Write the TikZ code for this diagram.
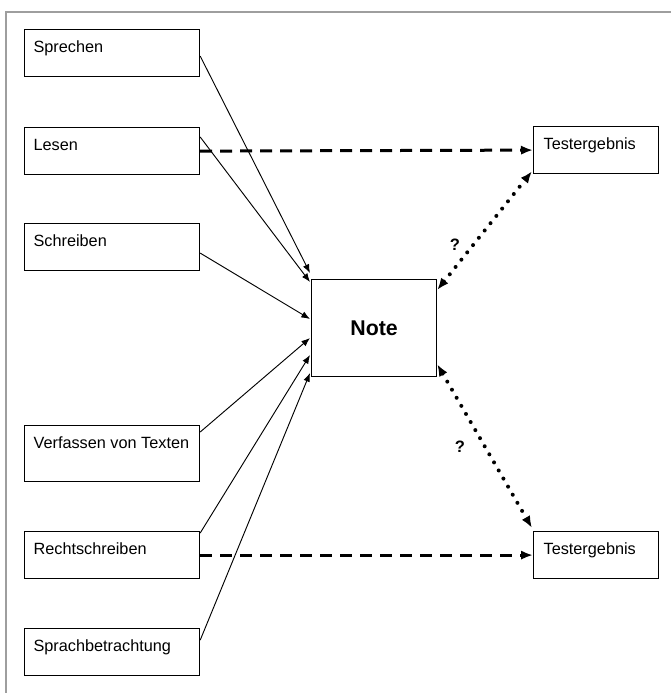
\documentclass[tikz,border=0pt]{standalone}
\usepackage{fontspec}
\setmainfont{Liberation Sans}
\usetikzlibrary{positioning, calc, arrows.meta}
\definecolor{framegrey}{rgb}{0.62, 0.62, 0.62}

\begin{document}
\begin{tikzpicture}[x=0.75pt, y=-0.75pt,
        skill/.style={draw, line width=0.9pt, anchor=north west, inner xsep=6.75pt, inner ysep=0pt,
            text width=117.75pt, align=flush left, text height=17.25pt, text depth=#1,
            font=\fontsize{12.2}{14}\selectfont},
        skill/.default=18pt,
        result/.style={draw, line width=0.9pt, anchor=north west, inner xsep=7.5pt, inner ysep=0pt,
            text width=78.75pt, align=flush left, text height=17.25pt, text depth=18pt,
            font=\fontsize{12.2}{14}\selectfont},
        influence/.style={-{Latex[length=6.5pt, width=5pt]}, line width=0.7pt},
        compare/.style={-{Latex[length=9pt, width=7pt]}, line width=2.25pt, dash pattern=on 9pt off 6pt},
        relation/.style={{Latex[length=9pt, width=7pt]}-{Latex[length=9pt, width=7pt]}, line width=3pt,
            line cap=round, dash pattern=on 0pt off 7pt}]

    \useasboundingbox (0,0) rectangle (671,693);
    \draw [framegrey, line width=0.8pt] (671,12) -- (6,12) -- (6,693);

    % skills on the left
    \node (sprechen)  [skill] at (24,29)  {Sprechen};
    \node (lesen)     [skill] at (24,127) {Lesen};
    \node (schreiben) [skill] at (24,223) {Schreiben};
    \node (verfassen) [skill=24.75pt] at (24,425) {\mbox{Verfassen von Texten}};
    \node (recht)     [skill] at (24,531) {Rechtschreiben};
    \node (sprach)    [skill] at (24,628) {Sprachbetrachtung};

    % grade and test results
    \node (note) [draw, line width=0.9pt, anchor=north west, minimum width=93.75pt, minimum height=72.75pt,
        font=\fontsize{16}{18}\bfseries\selectfont] at (311,279) {Note};
    \node (testA) [result] at (533,126) {Testergebnis};
    \node (testB) [result] at (533,531) {Testergebnis};

    \begin{scope}[influence]
        \draw ($(sprechen.east)+(0,3)$)          -- ($(note.north west)+(-1,-6)$);
        \draw ($(lesen.north east)+(0,10)$)      -- ($(note.north west)+(-1,3)$);
        \draw ($(schreiben.east)+(0,6)$)         -- ($(note.north west)+(-1,40)$);
        \draw ($(verfassen.north east)+(0,7)$)   -- ($(note.north west)+(-1,59)$);
        \draw ($(recht.north east)+(0,2)$)       -- ($(note.north west)+(-1,76)$);
        \draw ($(sprach.east)+(0,-12)$)          -- ($(note.north west)+(-1,94)$);
    \end{scope}

    \draw [compare] (lesen.east) -- (testA.west);
    \draw [compare] (recht.east) -- (testB.west);

    \draw [relation] ($(note.north east)+(0,11)$)  -- ($(testA.south west)+(-1,-3)$);
    \draw [relation] ($(note.south east)+(0,-13)$) -- ($(testB.north west)+(-1,-3)$);

    \node (qA) [font=\fontsize{12.4}{14}\bfseries\selectfont] at (455,245) {?};
    \node (qB) [font=\fontsize{12.4}{14}\bfseries\selectfont] at (460,447) {?};
\end{tikzpicture}
\end{document}
